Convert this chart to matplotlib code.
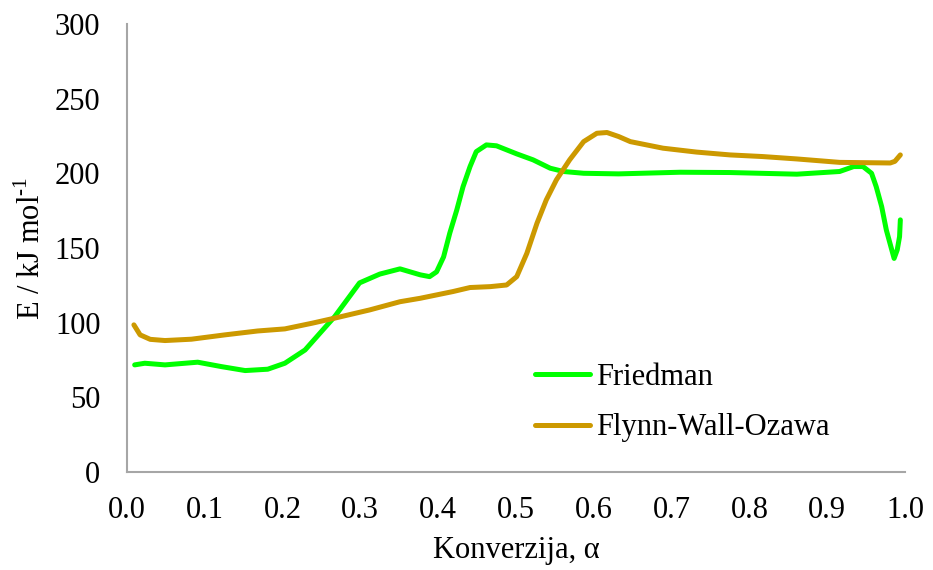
import matplotlib
matplotlib.use("Agg")
import matplotlib.pyplot as plt

# conversion values and activation energies (kJ/mol)
alpha_fr = [0.010, 0.023, 0.049, 0.091, 0.122, 0.152, 0.181, 0.203, 0.229, 0.254,
            0.267, 0.299, 0.325, 0.351, 0.377, 0.389, 0.398, 0.407, 0.415, 0.424,
            0.432, 0.441, 0.449, 0.462, 0.475, 0.488, 0.501, 0.522, 0.544, 0.561,
            0.587, 0.632, 0.711, 0.775, 0.861, 0.916, 0.934, 0.946, 0.957, 0.963,
            0.970, 0.976, 0.983, 0.986, 0.990, 0.993, 0.994]
e_fr = [71.7, 72.8, 71.7, 73.5, 70.5, 67.9, 68.8, 72.8, 81.7, 96.4,
        104.0, 126.6, 132.5, 136.0, 132.0, 130.8, 134.0, 144.0, 160.0, 175.5,
        191.0, 204.5, 214.5, 219.0, 218.4, 215.7, 213.0, 209.0, 203.4, 201.2,
        200.0, 199.6, 200.7, 200.5, 199.4, 201.2, 204.5, 204.5, 200.0, 191.0,
        177.7, 162.0, 148.7, 143.0, 148.7, 157.6, 168.8]

alpha_fwo = [0.009, 0.017, 0.030, 0.049, 0.083, 0.126, 0.168, 0.203, 0.238, 0.267,
             0.312, 0.351, 0.377, 0.419, 0.441, 0.467, 0.488, 0.501, 0.514, 0.527,
             0.539, 0.552, 0.569, 0.587, 0.604, 0.617, 0.632, 0.647, 0.689, 0.732,
             0.775, 0.817, 0.861, 0.916, 0.981, 0.987, 0.994]
e_fwo = [98.5, 91.8, 88.8, 88.0, 88.9, 91.8, 94.4, 95.8, 99.6, 103.0,
         108.5, 114.0, 116.3, 120.8, 123.5, 124.1, 125.2, 130.8, 146.4, 166.5,
         182.2, 195.6, 209.0, 221.2, 226.8, 227.3, 224.6, 221.2, 216.8, 214.2,
         212.3, 211.2, 209.6, 207.3, 206.9, 208.0, 212.3]

x_ticks = [0.0, 0.1, 0.2, 0.3, 0.4, 0.5, 0.6, 0.7, 0.8, 0.9, 1.0]
y_ticks = [0, 50, 100, 150, 200, 250, 300]

plt.rcParams["font.family"] = ["Liberation Serif", "DejaVu Serif"]
plt.rcParams["mathtext.fontset"] = "custom"
plt.rcParams["mathtext.rm"] = "Liberation Serif"

fig = plt.figure(figsize=(9.33, 5.70), dpi=100)
ax = fig.add_axes([0.136, 0.172, 0.834, 0.786])

ax.plot(alpha_fr, e_fr, color="#00FF00", lw=3.6, solid_capstyle="round",
        solid_joinstyle="round", label="Friedman")
ax.plot(alpha_fwo, e_fwo, color="#CC9900", lw=3.6, solid_capstyle="round",
        solid_joinstyle="round", label="Flynn-Wall-Ozawa")

ax.set_xlim(0, 1.0)
ax.set_ylim(0, 300)
ax.set_xticks(x_ticks)
ax.set_xticklabels([f"{t:.1f}" for t in x_ticks])
ax.set_yticks(y_ticks)
ax.tick_params(length=0, labelsize=22)
ax.tick_params(axis="y", pad=19)
ax.tick_params(axis="x", pad=17)

for side in ["top", "right"]:
    ax.spines[side].set_visible(False)
for side in ["left", "bottom"]:
    ax.spines[side].set_color("#a6a6a6")
    ax.spines[side].set_linewidth(1.5)

ax.set_xlabel("Konverzija, α", fontsize=22, labelpad=8)
ax.set_ylabel("E / kJ mol$^{\\mathrm{\u20101}}$", fontsize=22, labelpad=6)

ax.legend(loc="lower left", bbox_to_anchor=(0.489, 0.005), frameon=False,
          fontsize=22, handlelength=1.8, handletextpad=0.2, labelspacing=0.7)

fig.savefig("out.png", dpi=100)
